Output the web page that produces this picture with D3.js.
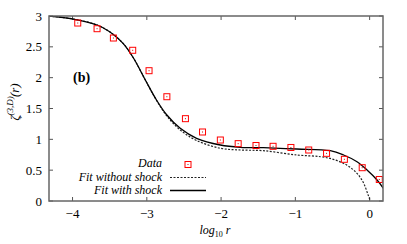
<!DOCTYPE html>
<html>
<head>
<meta charset="utf-8">
<script src="https://cdn.jsdelivr.net/npm/d3@7"></script>
<style>
  body { margin: 0; background: #fff; }
</style>
</head>
<body>
<script>
// data points (log10 r, zeta)
var dataX = [-3.93, -3.67, -3.45, -3.19, -2.97, -2.73, -2.48, -2.25, -2.01, -1.77, -1.53, -1.30, -1.06, -0.82, -0.58, -0.34, -0.10, 0.13];
var dataY = [2.886, 2.794, 2.643, 2.444, 2.113, 1.691, 1.335, 1.119, 0.989, 0.93, 0.90, 0.887, 0.868, 0.827, 0.773, 0.676, 0.540, 0.349];

// fit with shock (solid)
var withX = [-4.32, -3.99, -3.67, -3.50, -3.32, -3.18, -3.02, -2.87, -2.73, -2.55, -2.33, -2.01, -1.74, -1.43, -0.98, -0.53, -0.35, -0.17, -0.035, 0.10, 0.185];
var withY = [3.0, 2.951, 2.854, 2.745, 2.557, 2.319, 1.962, 1.638, 1.394, 1.178, 1.016, 0.908, 0.871, 0.864, 0.843, 0.816, 0.746, 0.637, 0.503, 0.341, 0.206];

// fit without shock (dashed)
var withoutX = [-4.32, -3.99, -3.67, -3.50, -3.32, -3.18, -3.02, -2.87, -2.73, -2.55, -2.33, -2.01, -1.74, -1.43, -0.98, -0.66, -0.49, -0.31, -0.17, -0.08, -0.02, 0.01];
var withoutY = [3.0, 2.951, 2.854, 2.745, 2.557, 2.319, 1.962, 1.634, 1.378, 1.151, 0.981, 0.855, 0.827, 0.816, 0.746, 0.718, 0.676, 0.584, 0.449, 0.287, 0.097, 0.0];

var xTicks = [-4, -3, -2, -1, 0];
var yTicks = [0, 0.5, 1, 1.5, 2, 2.5, 3];

var width = 407, height = 244;
var margin = {left: 49, top: 16, right: 24, bottom: 43};
var serif = "'Liberation Serif', 'DejaVu Serif', 'Times New Roman', serif";

var svg = d3.select("body").append("svg")
    .attr("width", width)
    .attr("height", height)
    .style("font-family", serif);

var x = d3.scaleLinear().domain([-4.317, 0.18]).range([margin.left, width - margin.right]);
var y = d3.scaleLinear().domain([0, 3]).range([height - margin.bottom, margin.top]);

svg.append("clipPath").attr("id", "clip")
  .append("rect")
    .attr("x", margin.left).attr("y", margin.top)
    .attr("width", width - margin.left - margin.right)
    .attr("height", height - margin.top - margin.bottom);

// ticks on all four sides, pointing in
var tl = 4;
var x0 = x.range()[0], x1 = x.range()[1], y0 = y.range()[0], y1 = y.range()[1];
var ticks = svg.append("g").attr("stroke", "#555").attr("stroke-width", 1);
xTicks.forEach(function(t) {
  ticks.append("line").attr("x1", x(t)).attr("x2", x(t)).attr("y1", y0).attr("y2", y0 - tl);
  ticks.append("line").attr("x1", x(t)).attr("x2", x(t)).attr("y1", y1).attr("y2", y1 + tl);
});
yTicks.forEach(function(t) {
  ticks.append("line").attr("x1", x0).attr("x2", x0 + tl).attr("y1", y(t)).attr("y2", y(t));
  ticks.append("line").attr("x1", x1).attr("x2", x1 - tl).attr("y1", y(t)).attr("y2", y(t));
});

// tick labels
svg.append("g").selectAll("text")
  .data(xTicks)
  .join("text")
    .attr("x", function(d) { return x(d); })
    .attr("y", 218)
    .attr("text-anchor", "middle")
    .style("font-size", "13px")
    .text(function(d) { return d < 0 ? "\u2212" + Math.abs(d) : d; });

svg.append("g").selectAll("text")
  .data(yTicks)
  .join("text")
    .attr("x", 42)
    .attr("y", function(d) { return y(d) + 4.5; })
    .attr("text-anchor", "end")
    .style("font-size", "13px")
    .text(function(d) { return d; });

// curves
var plot = svg.append("g").attr("clip-path", "url(#clip)");

var line = d3.line()
    .x(function(d) { return x(d[0]); })
    .y(function(d) { return y(d[1]); })
    .curve(d3.curveCatmullRom);

plot.append("path")
    .datum(d3.zip(withoutX, withoutY))
    .attr("d", line)
    .attr("fill", "none")
    .attr("stroke", "#222")
    .attr("stroke-width", 1.2)
    .attr("stroke-dasharray", "2,1.5");

plot.append("path")
    .datum(d3.zip(withX, withY))
    .attr("d", line)
    .attr("fill", "none")
    .attr("stroke", "#000")
    .attr("stroke-width", 1.3);

// data squares
function square(g, cx, cy) {
  g.append("rect")
    .attr("x", cx - 3).attr("y", cy - 3)
    .attr("width", 6).attr("height", 6)
    .attr("fill", "none").attr("stroke", "#f00").attr("stroke-width", 1);
  g.append("rect")
    .attr("x", cx - 0.5).attr("y", cy - 0.5)
    .attr("width", 1).attr("height", 1)
    .attr("fill", "#c00");
}
var pts = svg.append("g");
d3.zip(dataX, dataY).forEach(function(d) { square(pts, x(d[0]), y(d[1])); });

// frame
svg.append("rect")
    .attr("x", x0).attr("y", y1)
    .attr("width", x1 - x0).attr("height", y0 - y1)
    .attr("fill", "none").attr("stroke", "#666").attr("stroke-width", 1.5);

// legend
var legend = svg.append("g").style("font-size", "12px").style("font-style", "italic");
var labels = ["Data", "Fit without shock", "Fit with shock"];
var rowY = [167, 180.5, 194];
labels.forEach(function(l, i) {
  legend.append("text").attr("x", 162).attr("y", rowY[i]).attr("text-anchor", "end").text(l);
});
square(legend, 188, 164.5);
legend.append("line").attr("x1", 170).attr("x2", 206).attr("y1", 177.5).attr("y2", 177.5)
    .attr("stroke", "#222").attr("stroke-width", 1.2).attr("stroke-dasharray", "2,1.5");
legend.append("line").attr("x1", 170).attr("x2", 206).attr("y1", 190.5).attr("y2", 190.5)
    .attr("stroke", "#000").attr("stroke-width", 1.3);

// panel label
svg.append("text")
    .attr("x", 73).attr("y", 82)
    .style("font-size", "14px").style("font-weight", "bold")
    .text("(b)");

// axis labels
var xl = svg.append("text")
    .attr("x", 215).attr("y", 234)
    .attr("text-anchor", "middle")
    .style("font-size", "12px").style("font-style", "italic");
xl.append("tspan").text("log");
xl.append("tspan").attr("dy", 3).style("font-size", "8px").style("font-style", "normal").text("10");
xl.append("tspan").attr("dy", -3).text(" r");

var yl = svg.append("text")
    .attr("transform", "translate(19,102) rotate(-90)")
    .attr("text-anchor", "middle")
    .style("font-size", "13px").style("font-style", "italic");
yl.append("tspan").text("\u03b6");
yl.append("tspan").attr("dy", -6).style("font-size", "9px").text("(3,D)");
yl.append("tspan").attr("dx", -24).attr("dy", 10).style("font-size", "9px").text("\u2212");
yl.append("tspan").attr("dx", 17).attr("dy", -4).text("(r)");
</script>
</body>
</html>
